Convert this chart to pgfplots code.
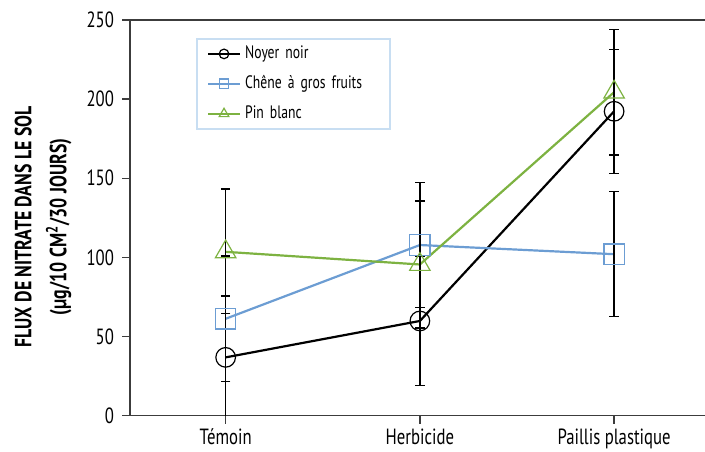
\documentclass[border=0pt]{standalone}
\usepackage{pgfplots}
\pgfplotsset{compat=1.18}
\usepackage{fontspec}
\setmainfont[FakeStretch=0.76]{PT Sans}
\definecolor{cblue}{RGB}{108,157,211}
\definecolor{cgreen}{RGB}{125,178,65}
\definecolor{lborder}{RGB}{200,222,242}
\definecolor{axgray}{RGB}{60,60,60}
\pgfplotsset{mylegimg/.style={legend image code/.code={\draw[mark repeat=2, mark phase=2, ##1, mark size=#1] plot coordinates {(0pt,0pt)(8pt,0pt)(16pt,0pt)};}}}
\begin{document}
\begin{tikzpicture}
\begin{axis}[
  scale only axis,
  width=287.5pt, height=197.8pt,
  at={(0,0)}, anchor=south west,
  xmin=-0.4925, xmax=2.468,
  ymin=0, ymax=250,
  axis x line=box, axis y line=left,
  axis line style={axgray, line width=0.7pt, -},
  xtick={0,1,2},
  xticklabels={Témoin,Herbicide,Paillis plastique},
  xtick pos=bottom,
  ytick={0,50,100,150,200,250},
  tick align=outside,
  major tick length=4pt,
  tick style={axgray, line width=0.7pt},
  /pgf/number format/assume math mode=true,
  tick label style={font=\fontsize{11}{13}\selectfont},
  yticklabel style={xshift=-0.5pt},
  xticklabel style={yshift=1pt},
  ylabel={FLUX DE NITRATE DANS LE SOL\\[3.5pt](µg/10 CM\textsuperscript{2}/30 JOURS)},
  ylabel style={at={(axis description cs:-0.151,0.477)}, anchor=center, align=center, font=\bfseries\fontsize{11.7}{14}\selectfont},
  legend style={at={(axis description cs:0.115,0.954)}, anchor=north west,
    draw=lborder, line width=0.8pt, font=\fontsize{9}{10}\selectfont,
    row sep=3pt, inner xsep=5pt, inner ysep=1.5pt, cells={anchor=west},
    nodes={text width=65.5pt, align=left}},
  legend cell align=left,
  clip=true,
]
\addplot[black, line width=1.1pt, mark=o, mark size=4.9pt, mark options={fill=white, line width=0.6pt}, mylegimg=2.4pt]
  coordinates {(0,36.8) (1,59.8) (2,192.3)};
\addlegendentry{Noyer noir}
\addplot[cblue, line width=1.1pt, mark=square, mark size=5.1pt, mark options={fill=white, line width=0.6pt}, mylegimg=2.4pt]
  coordinates {(0,61.2) (1,107.8) (2,102)};
\addlegendentry{Chêne à gros fruits}
\addplot[cgreen, line width=1.1pt, mark=triangle, mark size=5.9pt, mark options={fill=white, line width=0.6pt}, mylegimg=2.8pt]
  coordinates {(0,103.5) (1,95.5) (2,204.4)};
\addlegendentry{Pin blanc}
% error bars on top
\addplot[draw=none, mark=none, forget plot,
  error bars/.cd, y dir=both, y explicit,
  error bar style={black, line width=0.75pt},
  error mark options={black, line width=0.75pt, rotate=90, mark size=2.4pt}]
  coordinates {
   (0,36.8) +- (0,38.8)
   (1,59.8) +- (0,40.7)
   (2,192.3) +- (0,39.2)
  };
\addplot[draw=none, mark=none, forget plot,
  error bars/.cd, y dir=both, y explicit,
  error bar style={black, line width=0.75pt},
  error mark options={black, line width=0.75pt, rotate=90, mark size=2.4pt}]
  coordinates {
   (0,61.2) +- (0,39.8)
   (1,107.8) +- (0,39.6)
   (2,102) +- (0,39.5)
  };
\addplot[draw=none, mark=none, forget plot,
  error bars/.cd, y dir=both, y explicit,
  error bar style={black, line width=0.75pt},
  error mark options={black, line width=0.75pt, rotate=90, mark size=2.4pt}]
  coordinates {
   (0,103.9) +- (0,39.3)
   (1,95.5) +- (0,40)
   (2,204.4) +- (0,39.7)
  };
\end{axis}
\pgfresetboundingbox
\path (-65pt,-17.7pt) rectangle (287.5pt,207.8pt);
\end{tikzpicture}
\end{document}
